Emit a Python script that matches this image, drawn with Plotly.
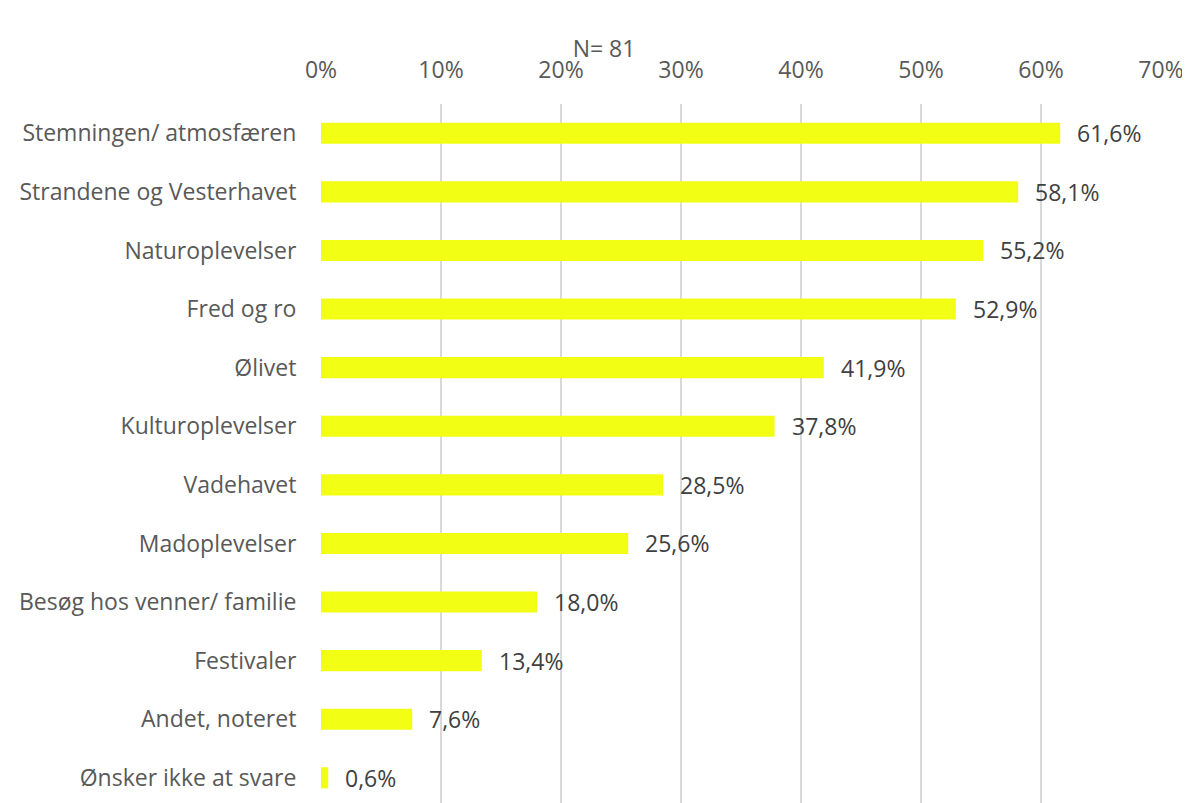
import plotly.graph_objects as go

categories = [
    "Stemningen/ atmosfæren",
    "Strandene og Vesterhavet",
    "Naturoplevelser",
    "Fred og ro",
    "Ølivet",
    "Kulturoplevelser",
    "Vadehavet",
    "Madoplevelser",
    "Besøg hos venner/ familie",
    "Festivaler",
    "Andet, noteret",
    "Ønsker ikke at svare",
]
values = [61.6, 58.1, 55.2, 52.9, 41.9, 37.8, 28.5, 25.6, 18.0, 13.4, 7.6, 0.6]
tick_vals = [0, 10, 20, 30, 40, 50, 60, 70]
tick_text = [f"{v}%" for v in tick_vals]
title_text = "N= 81"

# page body has an 8px default margin; figure sized/offset to compensate
OFF = 8
W, H = 1190 - OFF, 803 - OFF
L, T, B = 321 - OFF, 104 - OFF, 0
R = W - (1161 - OFF)
FONT = "'Open Sans', sans-serif"
FS = 23

fig = go.Figure()
fig.add_trace(go.Bar(
    x=values, y=categories, orientation="h",
    marker=dict(color="#F2FF14", line=dict(width=0)),
    width=0.36, hoverinfo="skip",
))

for c, v in zip(categories, values):
    fig.add_annotation(
        x=v, y=c, xref="x", yref="y", text=f"{v:.1f}".replace(".", ",") + "%",
        showarrow=False, xanchor="left", yanchor="middle", xshift=15,
        font=dict(family=FONT, size=FS, color="#404040"),
    )

fig.update_layout(
    width=W, height=H,
    margin=dict(l=L, r=R, t=T, b=B, autoexpand=False),
    plot_bgcolor="white", paper_bgcolor="white",
    showlegend=False,
    font=dict(family=FONT, size=FS, color="#595959"),
    title=dict(text=title_text, x=(604 - OFF) / W, xanchor="center",
               y=1 - (49 - OFF) / H, yanchor="middle",
               font=dict(family=FONT, size=FS, color="#595959")),
    xaxis=dict(
        side="top", range=[0, 70], tickvals=tick_vals, ticktext=tick_text,
        showgrid=True, gridcolor="#D9D9D9", gridwidth=1.5, zeroline=False,
        ticks="outside", ticklen=16, tickcolor="rgba(0,0,0,0)",
        tickfont=dict(family=FONT, size=FS, color="#595959"),
        showline=False, fixedrange=True, automargin=False,
    ),
    yaxis=dict(
        categoryorder="array", categoryarray=categories,
        autorange=False, range=[11.43, -0.5],
        showgrid=False, zeroline=False, showline=False,
        ticks="outside", ticklen=19, tickcolor="rgba(0,0,0,0)",
        tickfont=dict(family=FONT, size=FS, color="#595959"),
        automargin=False,
    ),
)

fig.write_html("out.html")
